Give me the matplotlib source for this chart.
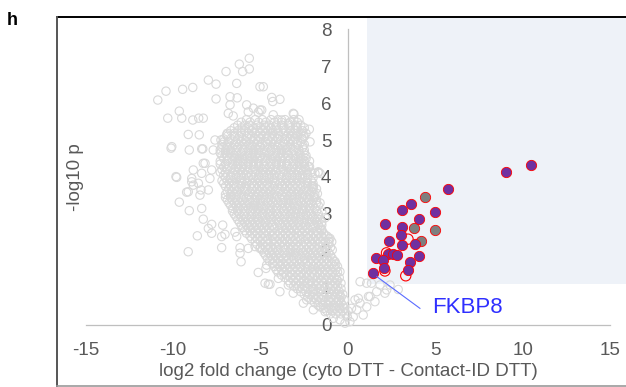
import matplotlib
matplotlib.use("Agg")
import matplotlib.pyplot as plt

plt.rcParams["font.family"] = ["Liberation Sans", "DejaVu Sans"]

# ---------------- ejes ----------------
x_ticks = [-15, -10, -5, 0, 5, 10, 15]
y_ticks = [0, 1, 2, 3, 4, 5, 6, 7, 8]
x_label = "log2 fold change (cyto DTT - Contact-ID DTT)"
y_label = "-log10 p"

# ---------------- nube de fondo (todas las proteinas) ----------------
# nucleo denso: una lista de log2FC por cada fila de -log10 p
core_y = [5.55, 5.40, 5.25, 5.10, 4.95, 4.80, 4.65, 4.50, 4.35, 4.20, 4.05, 3.90,
          3.75, 3.60, 3.45, 3.30, 3.15, 3.00, 2.85, 2.70, 2.55, 2.40, 2.25, 2.10,
          1.95, 1.80, 1.65, 1.50, 1.35, 1.20, 1.05, 0.90, 0.75, 0.60, 0.45, 0.30]
core_x = [
    [-5.8, -5.3, -4.9, -4.4, -4.0, -3.6, -3.1, -2.8],
    [-6.3, -5.9, -5.6, -5.2, -4.8, -4.5, -4.1, -3.8, -3.4, -3.0, -2.7],
    [-6.7, -6.3, -5.9, -5.5, -5.2, -4.9, -4.6, -4.3, -4.0, -3.6, -3.3, -3.0, -2.6],
    [-6.9, -6.5, -6.2, -5.8, -5.5, -5.1, -4.8, -4.5, -4.2, -3.9, -3.5, -3.2, -2.9, -2.5],
    [-7.1, -6.8, -6.4, -6.1, -5.8, -5.4, -5.1, -4.7, -4.4, -4.1, -3.7, -3.4, -3.1, -2.7],
    [-7.2, -6.9, -6.6, -6.3, -5.9, -5.6, -5.3, -5.0, -4.6, -4.3, -4.0, -3.6, -3.3, -3.0, -2.6],
    [-7.3, -7.0, -6.7, -6.4, -6.1, -5.7, -5.4, -5.1, -4.8, -4.5, -4.1, -3.8, -3.5, -3.2, -2.8, -2.5],
    [-7.1, -6.8, -6.5, -6.2, -5.9, -5.6, -5.2, -4.9, -4.6, -4.3, -3.9, -3.6, -3.3, -3.0, -2.7, -2.4],
    [-7.3, -7.0, -6.6, -6.3, -6.0, -5.7, -5.4, -5.1, -4.8, -4.4, -4.1, -3.8, -3.5, -3.1, -2.8, -2.5],
    [-7.2, -6.9, -6.5, -6.2, -5.9, -5.6, -5.3, -4.9, -4.6, -4.3, -4.0, -3.7, -3.3, -3.0, -2.7, -2.4],
    [-7.1, -6.7, -6.4, -6.1, -5.8, -5.5, -5.1, -4.8, -4.5, -4.2, -3.9, -3.5, -3.2, -2.9, -2.6, -2.3],
    [-7.2, -6.9, -6.6, -6.2, -5.9, -5.6, -5.3, -5.0, -4.7, -4.3, -4.0, -3.7, -3.4, -3.1, -2.8, -2.4, -2.1],
    [-7.0, -6.7, -6.4, -6.1, -5.8, -5.4, -5.1, -4.8, -4.5, -4.2, -3.8, -3.5, -3.2, -2.9, -2.6, -2.3, -2.0],
    [-6.9, -6.6, -6.3, -5.9, -5.6, -5.3, -5.0, -4.7, -4.4, -4.0, -3.7, -3.4, -3.1, -2.8, -2.4, -2.1],
    [-7.0, -6.7, -6.4, -6.1, -5.8, -5.5, -5.2, -4.8, -4.5, -4.2, -3.9, -3.6, -3.2, -2.9, -2.6, -2.3, -1.9],
    [-6.8, -6.5, -6.2, -5.9, -5.6, -5.3, -5.0, -4.6, -4.3, -4.0, -3.7, -3.4, -3.1, -2.7, -2.4, -2.1, -1.8],
    [-6.6, -6.3, -6.0, -5.7, -5.4, -5.1, -4.8, -4.5, -4.1, -3.8, -3.5, -3.2, -2.9, -2.6, -2.2, -1.9],
    [-6.5, -6.2, -5.9, -5.5, -5.2, -4.9, -4.6, -4.3, -4.0, -3.6, -3.3, -3.0, -2.7, -2.4, -2.1, -1.7],
    [-6.3, -6.0, -5.7, -5.4, -5.1, -4.7, -4.4, -4.1, -3.8, -3.5, -3.2, -2.8, -2.5, -2.2, -1.9, -1.6],
    [-6.1, -5.8, -5.5, -5.2, -4.9, -4.6, -4.3, -3.9, -3.6, -3.3, -3.0, -2.7, -2.4, -2.0, -1.7, -1.5],
    [-5.9, -5.6, -5.3, -5.0, -4.7, -4.4, -4.0, -3.7, -3.4, -3.1, -2.8, -2.5, -2.2, -1.8, -1.5],
    [-5.6, -5.3, -5.0, -4.7, -4.3, -4.0, -3.7, -3.4, -3.1, -2.8, -2.4, -2.1, -1.8, -1.5, -1.2],
    [-5.3, -5.0, -4.7, -4.4, -4.1, -3.8, -3.5, -3.2, -2.9, -2.5, -2.2, -1.9, -1.6, -1.3, -1.1],
    [-5.0, -4.7, -4.4, -4.1, -3.7, -3.4, -3.1, -2.8, -2.5, -2.2, -1.9, -1.6, -1.3, -1.0],
    [-4.8, -4.5, -4.2, -3.9, -3.6, -3.3, -3.0, -2.6, -2.3, -2.0, -1.7, -1.4, -1.1],
    [-4.6, -4.3, -4.0, -3.7, -3.4, -3.1, -2.8, -2.5, -2.1, -1.8, -1.5, -1.2, -0.9],
    [-4.3, -4.0, -3.7, -3.4, -3.1, -2.8, -2.4, -2.1, -1.8, -1.5, -1.2, -0.9, -0.7],
    [-4.1, -3.8, -3.5, -3.2, -2.9, -2.6, -2.3, -2.0, -1.6, -1.3, -1.0, -0.7],
    [-3.8, -3.5, -3.2, -2.8, -2.5, -2.2, -1.9, -1.6, -1.3, -1.0, -0.7],
    [-3.4, -3.1, -2.8, -2.5, -2.2, -1.8, -1.5, -1.2, -0.9, -0.6],
    [-3.1, -2.8, -2.5, -2.1, -1.8, -1.5, -1.2, -0.9, -0.6],
    [-2.7, -2.4, -2.0, -1.7, -1.4, -1.1, -0.8, -0.5],
    [-2.3, -2.0, -1.7, -1.4, -1.0, -0.7, -0.4],
    [-1.9, -1.6, -1.3, -1.0, -0.7, -0.4],
    [-1.4, -1.1, -0.8, -0.5, -0.2],
    [-1.0, -0.7, -0.4, -0.1],
]
# filas intermedias del nucleo
core2_y = [5.48, 5.33, 5.18, 5.03, 4.88, 4.73, 4.58, 4.43, 4.28, 4.13, 3.98, 3.83,
           3.68, 3.53, 3.38, 3.23, 3.08, 2.93, 2.78, 2.63, 2.48, 2.33, 2.18, 2.03,
           1.88, 1.73, 1.58, 1.43, 1.28, 1.13, 0.98, 0.83, 0.68, 0.53, 0.38]
core2_x = [
    [-6.1, -5.6, -5.1, -4.7, -4.2, -3.8, -3.3, -2.9],
    [-6.5, -6.1, -5.7, -5.4, -5.0, -4.7, -4.4, -4.1, -3.7, -3.3, -2.9, -2.5],
    [-6.9, -6.5, -6.1, -5.7, -5.3, -5.0, -4.7, -4.3, -4.0, -3.7, -3.4, -3.1, -2.7, -2.4],
    [-7.1, -6.7, -6.3, -6.0, -5.6, -5.3, -5.0, -4.6, -4.3, -4.0, -3.6, -3.3, -3.0, -2.6],
    [-7.2, -6.9, -6.5, -6.2, -5.9, -5.6, -5.2, -4.9, -4.6, -4.2, -3.9, -3.6, -3.3, -2.9, -2.5],
    [-7.3, -7.0, -6.7, -6.4, -6.0, -5.7, -5.4, -5.1, -4.8, -4.4, -4.1, -3.8, -3.5, -3.1, -2.8, -2.5],
    [-7.2, -6.9, -6.5, -6.2, -5.9, -5.6, -5.3, -5.0, -4.6, -4.3, -4.0, -3.7, -3.4, -3.0, -2.7, -2.4],
    [-7.3, -6.9, -6.6, -6.3, -6.0, -5.7, -5.4, -5.1, -4.7, -4.4, -4.1, -3.8, -3.4, -3.1, -2.8, -2.5, -2.2],
    [-7.1, -6.8, -6.4, -6.1, -5.8, -5.4, -5.1, -4.8, -4.5, -4.2, -3.8, -3.5, -3.2, -2.9, -2.5, -2.2],
    [-7.3, -7.0, -6.6, -6.3, -6.0, -5.7, -5.3, -5.0, -4.7, -4.4, -4.1, -3.7, -3.4, -3.1, -2.8, -2.4, -2.1],
    [-7.0, -6.7, -6.4, -6.1, -5.7, -5.4, -5.1, -4.8, -4.5, -4.2, -3.8, -3.5, -3.2, -2.9, -2.6, -2.3, -2.0],
    [-7.1, -6.8, -6.5, -6.1, -5.8, -5.5, -5.2, -4.9, -4.6, -4.2, -3.9, -3.6, -3.3, -3.0, -2.7, -2.3, -2.0],
    [-6.8, -6.5, -6.2, -5.9, -5.5, -5.2, -4.9, -4.6, -4.3, -4.0, -3.6, -3.3, -3.0, -2.7, -2.4, -2.0, -1.8],
    [-7.0, -6.7, -6.4, -6.1, -5.7, -5.4, -5.1, -4.8, -4.5, -4.2, -3.8, -3.5, -3.2, -2.9, -2.6, -2.2, -1.9],
    [-6.9, -6.6, -6.3, -6.0, -5.6, -5.3, -5.0, -4.7, -4.4, -4.1, -3.7, -3.4, -3.1, -2.8, -2.5, -2.2, -1.8],
    [-6.7, -6.4, -6.1, -5.8, -5.4, -5.1, -4.8, -4.5, -4.2, -3.9, -3.6, -3.3, -2.9, -2.6, -2.3, -2.0, -1.7],
    [-6.6, -6.3, -5.9, -5.6, -5.3, -5.0, -4.7, -4.4, -4.1, -3.7, -3.4, -3.1, -2.8, -2.5, -2.2, -1.8],
    [-6.4, -6.1, -5.8, -5.5, -5.2, -4.9, -4.5, -4.2, -3.9, -3.6, -3.3, -3.0, -2.7, -2.3, -2.0, -1.7],
    [-6.2, -5.9, -5.6, -5.3, -5.0, -4.7, -4.4, -4.0, -3.7, -3.4, -3.1, -2.8, -2.5, -2.2, -1.8, -1.5],
    [-6.0, -5.7, -5.4, -5.1, -4.8, -4.5, -4.2, -3.8, -3.5, -3.2, -2.9, -2.6, -2.3, -2.0, -1.6],
    [-5.8, -5.5, -5.2, -4.8, -4.5, -4.2, -3.9, -3.6, -3.3, -2.9, -2.6, -2.3, -2.0, -1.7, -1.4],
    [-5.5, -5.2, -4.9, -4.6, -4.2, -3.9, -3.6, -3.3, -3.0, -2.7, -2.3, -2.0, -1.7, -1.4, -1.1],
    [-5.2, -4.9, -4.6, -4.2, -3.9, -3.6, -3.3, -3.0, -2.7, -2.4, -2.1, -1.7, -1.4, -1.1],
    [-4.9, -4.6, -4.3, -4.0, -3.6, -3.3, -3.0, -2.7, -2.4, -2.1, -1.8, -1.5, -1.2, -0.9],
    [-4.7, -4.4, -4.1, -3.8, -3.5, -3.1, -2.8, -2.5, -2.2, -1.9, -1.6, -1.3, -1.0],
    [-4.5, -4.2, -3.9, -3.5, -3.2, -2.9, -2.6, -2.3, -2.0, -1.7, -1.4, -1.1, -0.8],
    [-4.2, -3.9, -3.6, -3.3, -3.0, -2.7, -2.3, -2.0, -1.7, -1.4, -1.1, -0.8, -0.6],
    [-4.0, -3.7, -3.3, -3.0, -2.7, -2.4, -2.1, -1.8, -1.5, -1.2, -0.9, -0.6],
    [-3.6, -3.3, -3.0, -2.7, -2.4, -2.0, -1.7, -1.4, -1.1, -0.8, -0.5],
    [-3.3, -3.0, -2.7, -2.3, -2.0, -1.7, -1.4, -1.0, -0.7, -0.4],
    [-2.9, -2.6, -2.3, -2.0, -1.6, -1.3, -1.0, -0.7, -0.4],
    [-2.5, -2.2, -1.9, -1.5, -1.2, -0.9, -0.6, -0.3],
    [-2.1, -1.8, -1.5, -1.1, -0.8, -0.5, -0.2],
    [-1.7, -1.4, -1.1, -0.8, -0.5, -0.3],
    [-1.2, -0.9, -0.6, -0.3, 0.0],
]

# puntos sueltos alrededor del nucleo
bg_x = [-5.64, -6.21, -5.64, -6.02, -6.97, -7.98, -7.54, -6.36, -8.87, -9.45,
        -5.03, -10.40, -10.87, -7.54, -6.74, -6.33, -4.36, -3.89, -4.30, -4.84,
        -9.64, -10.30, -9.50, -8.87, -8.53, -8.27, -6.74, -5.79, -5.70, -6.84,
        -3.09, -5.41, -5.13, -5.03, -6.56, -3.13, -4.27, -3.79, -3.41, -4.93,
        -9.13, -8.50, -10.07, -9.07, -8.30, -7.60, -7.26, -6.93, -2.21, -2.17,
        -2.55, -2.65, -2.93, -7.70,
        -9.83, -8.84, -8.93, -8.27, -9.22, -8.40, -1.70, -1.98, -1.98, -2.55,
        -2.27, -1.89, -1.60, -2.07,
        -10.11, -8.36, -8.17, -9.79, -8.93, -8.36, -7.79, -7.89, -8.84, -8.55,
        -9.13, -8.46, -7.98, -9.64, -9.07, -8.36, -8.27, -7.79, -7.98, -8.61,
        -7.79, -7.16, -7.03, -6.46,
        -9.13, -7.22, -7.22, -6.36, -6.17, -6.17, -6.11, -5.70, -5.31, -5.03,
        -5.13, -4.69, -4.74, -4.55,
        -4.65, -4.27, -4.46, -3.98, -3.41, -3.89, -3.13, -2.55, -1.98, -1.60,
        -1.31, -0.84, -0.46, -0.17, 0.11, -0.04, 0.30, 0.50, 0.69, 0.59,
        1.07, 0.87, 0.69, 1.26, 1.54, 2.11, 1.64, 1.07, 2.40, 1.34,
        1.83, 2.87, 2.21, 1.17, 0.40, 0.20,
        -2.55, -1.98, -1.03, -2.36,
        -1.70, -1.50, -1.03, -1.31, -0.74, -0.46, -0.65, -0.93, -0.46, -0.55,
        -1.70, -2.07, -1.50, -1.30, -1.60, -1.75]
bg_y = [7.21, 7.05, 6.92, 6.85, 6.85, 6.62, 6.51, 6.53, 6.42, 6.37,
        6.44, 6.32, 6.08, 6.11, 6.17, 6.14, 6.15, 6.10, 6.04, 6.44,
        5.78, 5.59, 5.59, 5.54, 5.59, 5.59, 5.95, 5.95, 5.76, 5.72,
        5.70, 5.86, 5.75, 5.81, 5.65, 5.72, 5.68, 5.54, 5.45, 5.81,
        5.15, 5.14, 4.82, 4.73, 4.76, 5.00, 5.00, 5.14, 5.29, 4.95,
        5.09, 5.05, 5.18, 4.73,
        4.01, 4.19, 3.87, 4.37, 3.59, 3.65, 4.12, 3.74, 3.47, 4.37,
        4.28, 4.10, 4.10, 3.60,
        4.78, 4.76, 4.37, 3.99, 3.96, 4.10, 4.19, 3.96, 3.78, 3.83,
        3.60, 3.51, 3.65, 3.32, 3.09, 3.15, 2.86, 2.72, 2.61, 2.41,
        2.48, 2.70, 2.45, 2.51,
        1.98, 2.39, 2.09, 2.39, 2.09, 1.94, 1.71, 2.07, 2.12, 2.07,
        1.42, 1.53, 1.13, 1.10,
        1.62, 1.67, 1.10, 1.26, 1.08, 0.90, 0.86, 0.59, 0.41, 0.49,
        0.36, 0.18, 0.14, 0.05, 0.09, 0.22, 0.22, 0.41, 0.59, 0.72,
        0.49, 0.27, 1.17, 0.77, 0.63, 0.86, 0.90, 1.13, 1.08, 1.13,
        1.08, 0.96, 0.95, 0.77, 0.68, 0.45,
        1.17, 0.95, 0.63, 0.68,
        2.70, 2.57, 2.34, 2.43, 1.71, 1.44, 1.22, 2.25, 0.81, 0.63,
        4.14, 3.74, 3.05, 2.90, 3.30, 3.55]

# ---------------- proteinas enriquecidas ----------------
purple_x = [10.44, 9.05, 5.70, 3.60, 3.09, 4.99, 2.11, 4.06, 3.09, 3.01, 2.32, 3.85,
            3.10, 2.30, 2.59, 2.82, 4.08, 1.62, 2.02, 3.54, 2.04, 3.43, 1.45]
purple_y = [4.33, 4.14, 3.67, 3.26, 3.11, 3.05, 2.74, 2.86, 2.64, 2.43, 2.28, 2.19,
            2.15, 1.91, 1.91, 1.89, 1.86, 1.81, 1.76, 1.70, 1.55, 1.49, 1.40]
grey_x = [4.40, 3.77, 4.97, 4.17]
grey_y = [3.47, 2.63, 2.58, 2.28]
ring_x = [3.43, 2.20, 2.11, 3.30]
ring_y = [2.32, 1.95, 1.46, 1.33]

label_name = "FKBP8"
label_x, label_y = 1.45, 1.40

# zona de corte (log2FC > 1, p < 0.08)
cut_fc, cut_p = 1.09, 1.10

# ---------------- figura ----------------
# ejes sobre toda la figura: 17.5 px por unidad en x, 37 px por unidad en y
fig = plt.figure(figsize=(6.26, 3.87), dpi=100)
ax = fig.add_axes([0, 0, 1, 1])
ax.set_xlim(-19.886, 15.886)
ax.set_ylim(-1.676, 8.784)
ax.patch.set_alpha(0)

ax.fill_between([cut_fc, 16.5], cut_p, 8.30, color="#EEF2F8", lw=0, zorder=0)

for s in ("top", "right"):
    ax.spines[s].set_visible(False)
ax.spines["left"].set_position(("data", 0))
ax.spines["bottom"].set_position(("data", 0))
ax.spines["left"].set_bounds(0, 8)
ax.spines["bottom"].set_bounds(-15, 15)
for s in ("left", "bottom"):
    ax.spines[s].set_color("#BFBFBF")
    ax.spines[s].set_linewidth(0.9)
    ax.spines[s].set_zorder(0.5)
ax.set_xticks(x_ticks)
ax.set_yticks(y_ticks)
ax.set_xticklabels([str(v) for v in x_ticks])
ax.set_yticklabels([str(v) for v in y_ticks])
ax.tick_params(axis="both", length=0, labelsize=13.5, labelcolor="#595959")
ax.tick_params(axis="x", pad=12.5)
ax.tick_params(axis="y", pad=12)

cx = [x for row in core_x + core2_x for x in row]
cy = [y for row, y in zip(core_x + core2_x, core_y + core2_y) for _ in row]
ax.scatter(cx + bg_x, cy + bg_y, s=36, facecolors="none", edgecolors="#D9D9D9",
           linewidths=0.8, zorder=2)

ax.scatter(ring_x, ring_y, s=55, facecolors="none", edgecolors="#FF0000",
           linewidths=0.8, zorder=3)
ax.scatter(grey_x, grey_y, s=55, facecolors="#7F7F7F", edgecolors="#FF0000",
           linewidths=0.6, zorder=4)
ax.scatter(purple_x, purple_y, s=55, facecolors="#7030A0", edgecolors="#FF0000",
           linewidths=0.6, zorder=5)

ax.plot([label_x + 0.19, 4.11], [label_y - 0.09, 0.45], color="#5A6BFF", lw=0.8, zorder=6)
ax.text(4.8, 0.46, label_name, color="#2F2FFF", fontsize=16, va="center", ha="left")

# marco del grafico
kw = dict(clip_on=False, zorder=7)
ax.plot([-16.63, 16.0], [8.33, 8.33], color="#000000", lw=1.4, **kw)
ax.plot([-16.63, -16.63], [-1.65, 8.33], color="#555555", lw=1.4, **kw)
ax.plot([-16.63, 16.0], [-1.65, -1.65], color="#999999", lw=1.2, **kw)

fig.text(348 / 626, 1 - 372 / 387, x_label, ha="center", va="center",
         fontsize=13.5, color="#595959")
fig.text(75 / 626, 1 - 177 / 387, y_label, ha="center", va="center",
         rotation=90, fontsize=13.5, color="#595959")
fig.text(7 / 626, 1 - 25 / 387, "h", ha="left", va="baseline",
         fontsize=13, fontweight="bold")

fig.savefig("out.png", dpi=100)
